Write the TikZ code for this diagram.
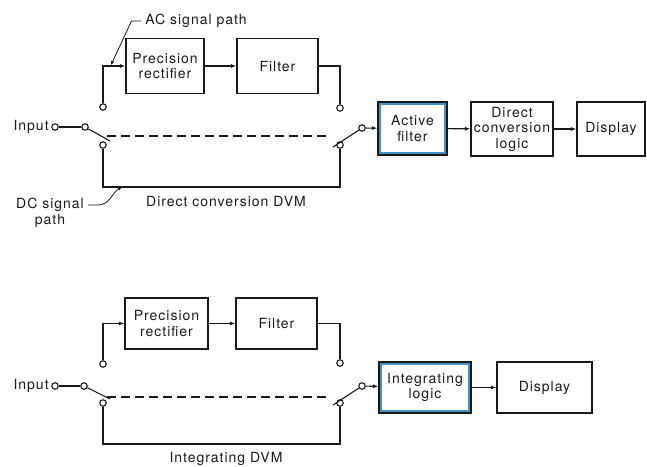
\documentclass[tikz,border=0pt]{standalone}
\usepackage{fontspec}
\setmainfont[LetterSpace=7]{TeX Gyre Heros}
\usepackage{tikz}
\usetikzlibrary{positioning,arrows.meta}
\usepackage{xcolor}
\definecolor{FrameBlue}{RGB}{70, 145, 195}
\definecolor{InkBlack}{RGB}{25, 25, 25}

\begin{document}
\begin{tikzpicture}[x=1pt,y=-1pt,line width=1.1pt,draw=InkBlack,
    every node/.style={font=\fontsize{14}{15.5}\selectfont,text=InkBlack},
    block/.style={draw,rectangle,align=center,inner sep=2pt},
    hlblock/.style={block,path picture={\draw[FrameBlue,line width=2.4pt]
        ([shift={(2pt,2pt)}]path picture bounding box.south west) rectangle
        ([shift={(-2pt,-2pt)}]path picture bounding box.north east);}},
    term/.style={draw,circle,fill=white,inner sep=0pt,minimum size=6.5pt},
    sig/.style={-{Latex[length=5.5pt,width=4pt]}},
    lead/.style={-{Latex[length=4pt,width=3.5pt]},line width=0.8pt}]
  \useasboundingbox (0,0) rectangle (647,466);

  % ---- direct conversion DVM ----
  \node[block,minimum width=78pt,minimum height=55pt] (rectA) at (165,66) {Precision\\rectifier};
  \node[block,minimum width=81pt,minimum height=55pt] (filtA) at (277.5,66) {Filter};
  \node[hlblock,minimum width=69pt,minimum height=53pt] (actA) at (412.5,128.5) {Active\\filter};
  \node[block,minimum width=82pt,minimum height=54pt] (logA) at (512,129) {Direct\\conversion\\logic};
  \node[block,minimum width=68pt,minimum height=54pt] (dispA) at (611,129) {Display};

  \node[term] (inA) at (55,127) {};
  \node[left=1pt of inA,inner sep=1pt] {Input};
  \node[term] (pivA) at (85,127) {};
  \node[term] (upA) at (103,107) {};
  \node[term] (loA) at (103,145) {};
  \node[term] (rupA) at (340,108) {};
  \node[term] (rloA) at (340,145) {};
  \node[term] (rpivA) at (362,128) {};
  \coordinate (bladeA) at (110,141);
  \coordinate (rbladeA) at (333,147);

  \draw (inA) -- (pivA);
  \draw (pivA) -- (bladeA);
  \draw (rpivA) -- (rbladeA);
  \draw[dashed,dash pattern=on 9pt off 5pt] (107,136) -- (330,136);
  \draw[sig] (upA) |- (rectA);
  \draw[sig] (rectA) -- (filtA);
  \draw (filtA.east) -| (rupA);
  \draw (loA) |- (340,187) -- (rloA);
  \draw[sig] (rpivA) -- (actA);
  \draw[sig] (actA) -- (logA);
  \draw[sig] (logA) -- (dispA);

  \node (acl) at (196,21) {AC signal path};
  \coordinate (acpt) at (111,65);
  \draw[lead] (acl.west) -- ++(-10,0) -- (acpt);
  \node[align=center] (dcl) at (50,213) {DC signal\\path};
  \coordinate (dcpt) at (122,187);
  \draw[lead] (88,205) -- (98,205) to[out=0,in=210] (dcpt);
  \node (capA) at (226,201) {Direct conversion DVM};

  % ---- integrating DVM ----
  \node[block,minimum width=83pt,minimum height=51pt] (rectB) at (166.5,323.5) {Precision\\rectifier};
  \node[block,minimum width=81pt,minimum height=51pt] (filtB) at (276.5,323.5) {Filter};
  \node[hlblock,minimum width=92pt,minimum height=51pt] (intB) at (425,387.5) {Integrating\\logic};
  \node[block,minimum width=95pt,minimum height=51pt] (dispB) at (544.5,387.5) {Display};

  \node[term] (inB) at (55,386) {};
  \node[left=1pt of inB,inner sep=1pt] {Input};
  \node[term] (pivB) at (84,386) {};
  \node[term] (upB) at (103,364) {};
  \node[term] (loB) at (103,403) {};
  \node[term] (rupB) at (340,363) {};
  \node[term] (rloB) at (340,403) {};
  \node[term] (rpivB) at (362,386) {};
  \coordinate (bladeB) at (110,399);
  \coordinate (rbladeB) at (333,405);

  \draw (inB) -- (pivB);
  \draw (pivB) -- (bladeB);
  \draw (rpivB) -- (rbladeB);
  \draw[dashed,dash pattern=on 9pt off 5pt] (107,397) -- (330,397);
  \draw[sig] (upB) |- (rectB);
  \draw[sig] (rectB) -- (filtB);
  \draw (filtB.east) -| (rupB);
  \draw (loB) |- (340,444) -- (rloB);
  \draw[sig] (rpivB) -- (intB);
  \draw[sig] (intB) -- (dispB);
  \node (capB) at (226,459) {Integrating DVM};
\end{tikzpicture}
\end{document}
